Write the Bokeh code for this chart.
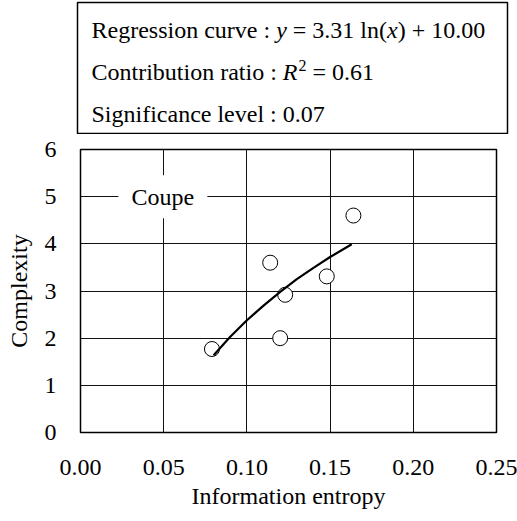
from bokeh.plotting import figure
from bokeh.layouts import column, row
from bokeh.models import Range1d, FixedTicker, NumeralTickFormatter
from bokeh.core.properties import value
from bokeh.embed import file_html
from bokeh.resources import INLINE

# ---- data ----
entropy = [0.079, 0.114, 0.123, 0.120, 0.148, 0.164]
complexity = [1.77, 3.60, 2.92, 2.00, 3.31, 4.60]
curve_x = [0.080, 0.090, 0.100, 0.110, 0.120, 0.130, 0.140, 0.150, 0.163]
curve_y = [1.64, 2.03, 2.38, 2.69, 2.98, 3.25, 3.49, 3.72, 3.99]
x_ticks = [0.0, 0.05, 0.10, 0.15, 0.20, 0.25]
y_ticks = [0, 1, 2, 3, 4, 5, 6]
group_label = "Coupe"
x_title = "Information entropy"
y_title = "Complexity"
NB = "\u00a0"
line1 = [("Regression curve :" + NB, "normal"), ("y", "italic"), (NB + "= 3.31 ln(", "normal"),
         ("x", "italic"), (") + 10.00", "normal")]
line2_a = [("Contribution ratio :" + NB, "normal"), ("R", "italic")]
line2_sup = "2"
line2_b = NB + "= 0.61"
line3 = "Significance level : 0.07"

FONT = "Liberation Serif"
FS = 24
W = 517

# Times / Liberation Serif advance widths (1/1000 em)
W_NORMAL = {' ': 250, NB: 250, 'R': 667, 'e': 444, 'g': 500, 'r': 333, 's': 389, 'i': 278,
            'o': 500, 'n': 500, 'c': 444, 'u': 500, 'v': 500, ':': 278, '=': 564, '.': 250,
            'l': 278, '(': 333, ')': 333, '+': 564, 'C': 667, 't': 278, 'b': 500, 'a': 444,
            'S': 556, 'f': 333, '0': 500, '1': 500, '2': 500, '3': 500, '6': 500, '7': 500}
W_ITALIC = {'y': 444, 'x': 444, 'R': 611}


def text_width(s, style, size):
    table = W_ITALIC if style == "italic" else W_NORMAL
    return sum(table.get(ch, 500) for ch in s) * size / 1000.0


# ---- top box with regression statistics ----
TBL, TBR = 77, 10
top = figure(width=W, height=134, output_backend="svg", toolbar_location=None,
             x_range=Range1d(0, W - TBL - TBR), y_range=Range1d(0, 131),
             x_axis_location=None, y_axis_location=None,
             min_border_left=TBL, min_border_right=TBR, min_border_top=2, min_border_bottom=1)
top.grid.visible = False
top.outline_line_color = "black"
top.outline_line_width = 1.5
top.background_fill_color = "white"
top.border_fill_color = "white"

x0 = 14
# vertical centres of the three rows (measured from the box bottom)
y_rows = [104, 62, 20]


def put(x, y, s, style, size=FS):
    top.text(x=[x], y=[y], text=[s], text_font=value(FONT), text_font_size=f"{size}px",
             text_font_style=style, text_baseline="middle", text_align="left",
             text_color="black")
    return x + text_width(s, style, size)


cx = x0
for s, st in line1:
    cx = put(cx, y_rows[0], s, st)

cx = x0
for s, st in line2_a:
    cx = put(cx, y_rows[1], s, st)
cx = put(cx + 1, y_rows[1] + 6, line2_sup, "normal", 16)
cx = put(cx, y_rows[1], line2_b, "normal")

put(x0, y_rows[2], line3, "normal")

# ---- main scatter chart ----
p = figure(width=W, height=379, output_backend="svg", toolbar_location=None,
           x_range=Range1d(0, 0.25), y_range=Range1d(0, 6),
           min_border_left=80, min_border_right=21, min_border_top=15, min_border_bottom=81)
p.background_fill_color = "white"
p.border_fill_color = "white"
p.outline_line_color = "black"
p.outline_line_width = 1.5

p.xaxis.ticker = FixedTicker(ticks=x_ticks)
p.yaxis.ticker = FixedTicker(ticks=y_ticks)
p.xaxis.formatter = NumeralTickFormatter(format="0.00")
p.xgrid.grid_line_color = "#111111"
p.ygrid.grid_line_color = "#111111"
p.xgrid.grid_line_width = 1
p.ygrid.grid_line_width = 1

for ax in (p.xaxis[0], p.yaxis[0]):
    ax.axis_line_color = None
    ax.major_tick_line_color = None
    ax.minor_tick_line_color = None
    ax.major_tick_in = 0
    ax.major_tick_out = 0
    ax.major_label_text_font = FONT
    ax.major_label_text_font_size = f"{FS}px"
    ax.major_label_text_color = "black"
    ax.axis_label_text_font = FONT
    ax.axis_label_text_font_size = f"{FS}px"
    ax.axis_label_text_font_style = "normal"
    ax.axis_label_text_color = "black"

p.xaxis.axis_label = x_title
p.yaxis.axis_label = y_title
p.xaxis.major_label_standoff = 27
p.xaxis.axis_label_standoff = 5
p.yaxis.major_label_standoff = 24
p.yaxis.axis_label_standoff = 10

# label "Coupe" with white background
p.rect(x=[0.0495], y=[5], width=89, height=43, width_units="screen", height_units="screen",
       fill_color="white", line_color=None)
p.text(x=[0.0495], y=[5], text=[group_label], text_font=value(FONT), text_font_size=f"{FS}px",
       text_align="center", text_baseline="middle", text_color="black")

p.scatter(entropy, complexity, size=15, marker="circle", fill_color="white",
          line_color="black", line_width=1)
p.line(curve_x, curve_y, line_color="black", line_width=2.2)

layout = column(row(top), p, spacing=0)
open("out.html", "w").write(file_html(layout, INLINE))
